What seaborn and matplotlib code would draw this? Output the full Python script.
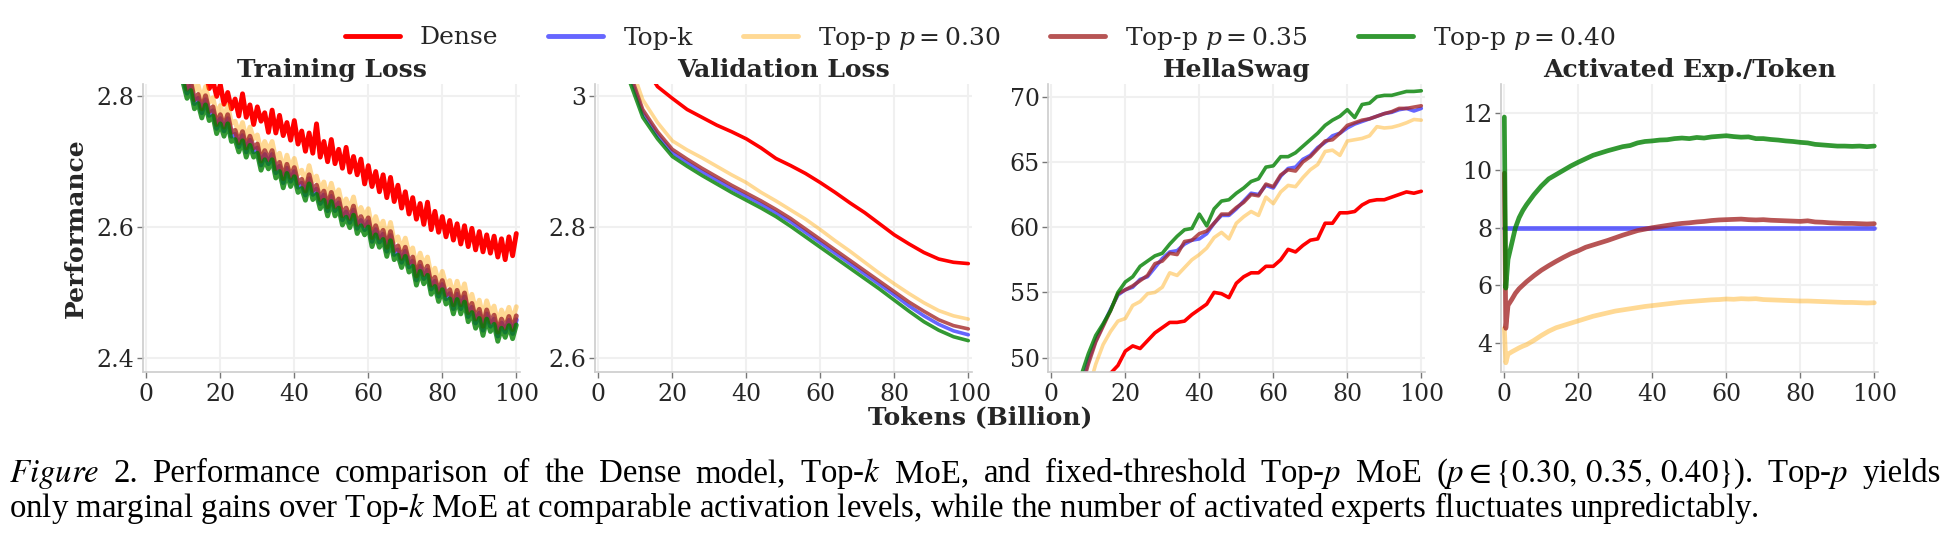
import numpy as np
import pandas as pd
import matplotlib
matplotlib.use("Agg")
import matplotlib.pyplot as plt
import seaborn as sns

# ---------------- data ----------------
series = ["Dense", "Top-k", "Top-p $p = 0.30$", "Top-p $p = 0.35$", "Top-p $p = 0.40$"]
panel_titles = ["Training Loss", "Validation Loss", "HellaSwag", "Activated Exp./Token"]

tokens_train = np.arange(10, 101)
train_dense = [2.872, 2.858, 2.866, 2.842, 2.851, 2.826, 2.838, 2.812, 2.824, 2.800,
               2.818, 2.788, 2.806, 2.781, 2.796, 2.770, 2.804, 2.768, 2.787, 2.757,
               2.784, 2.762, 2.775, 2.745, 2.779, 2.744, 2.771, 2.740, 2.760, 2.733,
               2.763, 2.727, 2.747, 2.716, 2.744, 2.713, 2.758, 2.707, 2.731, 2.700,
               2.734, 2.697, 2.719, 2.690, 2.722, 2.684, 2.708, 2.680, 2.704, 2.666,
               2.694, 2.662, 2.685, 2.654, 2.680, 2.645, 2.676, 2.639, 2.664, 2.629,
               2.654, 2.620, 2.645, 2.612, 2.636, 2.604, 2.638, 2.596, 2.624, 2.592,
               2.616, 2.585, 2.610, 2.580, 2.605, 2.574, 2.602, 2.570, 2.598, 2.565,
               2.593, 2.562, 2.588, 2.560, 2.586, 2.554, 2.582, 2.550, 2.585, 2.556,
               2.590]
train_topk = [2.828, 2.805, 2.817, 2.789, 2.797, 2.775, 2.795, 2.771, 2.778, 2.751,
              2.766, 2.747, 2.766, 2.739, 2.742, 2.723, 2.740, 2.715, 2.733, 2.715,
              2.721, 2.695, 2.711, 2.697, 2.711, 2.683, 2.693, 2.668, 2.690, 2.670,
              2.685, 2.661, 2.667, 2.649, 2.674, 2.650, 2.658, 2.636, 2.649, 2.625,
              2.647, 2.625, 2.637, 2.611, 2.623, 2.607, 2.626, 2.598, 2.610, 2.596,
              2.608, 2.578, 2.596, 2.577, 2.589, 2.563, 2.587, 2.558, 2.565, 2.546,
              2.563, 2.539, 2.548, 2.519, 2.540, 2.521, 2.534, 2.505, 2.517, 2.494,
              2.512, 2.490, 2.498, 2.475, 2.497, 2.475, 2.493, 2.463, 2.477, 2.453,
              2.468, 2.442, 2.467, 2.448, 2.459, 2.433, 2.453, 2.439, 2.457, 2.437,
              2.458]
train_p030 = [2.848, 2.825, 2.837, 2.809, 2.817, 2.795, 2.815, 2.791, 2.798, 2.771,
              2.786, 2.767, 2.786, 2.759, 2.762, 2.743, 2.760, 2.735, 2.753, 2.735,
              2.741, 2.715, 2.731, 2.717, 2.731, 2.703, 2.713, 2.688, 2.710, 2.690,
              2.705, 2.681, 2.687, 2.669, 2.694, 2.670, 2.678, 2.656, 2.669, 2.645,
              2.667, 2.645, 2.657, 2.631, 2.643, 2.627, 2.646, 2.618, 2.630, 2.616,
              2.628, 2.598, 2.616, 2.597, 2.609, 2.583, 2.607, 2.578, 2.585, 2.566,
              2.583, 2.559, 2.568, 2.539, 2.560, 2.541, 2.554, 2.525, 2.537, 2.514,
              2.532, 2.510, 2.518, 2.495, 2.517, 2.495, 2.513, 2.483, 2.497, 2.473,
              2.488, 2.462, 2.487, 2.468, 2.479, 2.453, 2.473, 2.459, 2.477, 2.457,
              2.478]
train_p035 = [2.834, 2.811, 2.823, 2.795, 2.803, 2.781, 2.801, 2.777, 2.784, 2.757,
              2.772, 2.753, 2.772, 2.745, 2.748, 2.729, 2.746, 2.721, 2.739, 2.721,
              2.727, 2.701, 2.717, 2.703, 2.717, 2.689, 2.699, 2.674, 2.696, 2.676,
              2.691, 2.667, 2.673, 2.655, 2.680, 2.656, 2.664, 2.642, 2.655, 2.631,
              2.653, 2.631, 2.643, 2.617, 2.629, 2.613, 2.632, 2.604, 2.616, 2.602,
              2.614, 2.584, 2.602, 2.583, 2.595, 2.569, 2.593, 2.564, 2.571, 2.552,
              2.569, 2.545, 2.554, 2.525, 2.546, 2.527, 2.540, 2.511, 2.523, 2.500,
              2.518, 2.496, 2.504, 2.481, 2.503, 2.481, 2.499, 2.469, 2.483, 2.459,
              2.474, 2.448, 2.473, 2.454, 2.465, 2.439, 2.459, 2.445, 2.463, 2.443,
              2.464]
train_p040 = [2.820, 2.797, 2.809, 2.781, 2.789, 2.767, 2.787, 2.763, 2.770, 2.743,
              2.758, 2.739, 2.758, 2.731, 2.734, 2.715, 2.732, 2.707, 2.725, 2.707,
              2.713, 2.687, 2.703, 2.689, 2.703, 2.675, 2.685, 2.660, 2.682, 2.662,
              2.677, 2.653, 2.659, 2.641, 2.666, 2.642, 2.650, 2.628, 2.641, 2.617,
              2.639, 2.617, 2.629, 2.603, 2.615, 2.599, 2.618, 2.590, 2.602, 2.588,
              2.600, 2.570, 2.588, 2.569, 2.581, 2.555, 2.579, 2.550, 2.557, 2.538,
              2.555, 2.531, 2.540, 2.511, 2.532, 2.513, 2.526, 2.497, 2.509, 2.486,
              2.504, 2.482, 2.490, 2.467, 2.489, 2.467, 2.485, 2.455, 2.469, 2.445,
              2.460, 2.434, 2.459, 2.440, 2.451, 2.425, 2.445, 2.431, 2.449, 2.429,
              2.450]

tokens_val = np.arange(4, 101, 4)
val_dense = [3.30, 3.12, 3.05, 3.015, 2.997, 2.980, 2.968, 2.956, 2.946, 2.935, 2.921, 2.905,
             2.894, 2.882, 2.868, 2.853, 2.837, 2.822, 2.805, 2.788, 2.774, 2.761, 2.751, 2.746, 2.744]
val_topk = [3.26, 3.04, 2.975, 2.941, 2.914, 2.899, 2.885, 2.872, 2.859, 2.847, 2.835, 2.822,
            2.808, 2.792, 2.776, 2.760, 2.744, 2.728, 2.712, 2.696, 2.679, 2.664, 2.651, 2.641, 2.635]
val_p030 = [3.29, 3.06, 2.995, 2.960, 2.932, 2.918, 2.906, 2.893, 2.880, 2.868, 2.853, 2.840,
            2.826, 2.812, 2.796, 2.779, 2.763, 2.746, 2.729, 2.713, 2.698, 2.684, 2.672, 2.664, 2.659]
val_p035 = [3.27, 3.045, 2.980, 2.946, 2.919, 2.904, 2.890, 2.877, 2.864, 2.852, 2.840, 2.827,
            2.813, 2.797, 2.781, 2.765, 2.749, 2.733, 2.717, 2.701, 2.685, 2.671, 2.658, 2.649, 2.644]
val_p040 = [3.25, 3.03, 2.968, 2.935, 2.908, 2.893, 2.879, 2.866, 2.853, 2.841, 2.829, 2.816,
            2.801, 2.785, 2.769, 2.753, 2.737, 2.721, 2.705, 2.688, 2.671, 2.655, 2.642, 2.632, 2.626]

tokens_hs = np.arange(8, 101, 2)
hs_dense = [43.0, 44.5, 46.0, 47.3, 48.8, 49.4, 50.5, 50.9, 50.7, 51.3,
            51.9, 52.3, 52.7, 52.7, 52.8, 53.3, 53.7, 54.1, 55.0, 54.9,
            54.6, 55.7, 56.2, 56.5, 56.5, 57.0, 57.0, 57.5, 58.3, 58.1,
            58.6, 59.0, 59.1, 60.3, 60.3, 61.1, 61.1, 61.2, 61.7, 62.0,
            62.1, 62.1, 62.3, 62.5, 62.7, 62.6, 62.75]
hs_topk = [47.7, 49.8, 51.3, 52.5, 53.7, 54.8, 55.2, 55.4, 56.0, 56.2,
           56.9, 57.6, 58.1, 58.2, 58.7, 59.0, 59.1, 59.5, 60.3, 60.9,
           60.9, 61.4, 62.0, 62.6, 62.5, 63.2, 63.0, 63.9, 64.5, 64.6,
           65.2, 65.5, 66.1, 66.5, 67.0, 67.2, 67.6, 67.9, 68.1, 68.3,
           68.5, 68.7, 68.8, 69.0, 69.1, 68.9, 69.1]
hs_p030 = [45.5, 47.5, 49.5, 51.0, 52.0, 52.8, 53.0, 54.0, 54.3, 54.9,
           55.0, 55.4, 56.5, 56.3, 56.9, 57.5, 57.9, 58.4, 59.2, 59.6,
           59.1, 60.3, 60.8, 61.2, 60.9, 62.3, 61.8, 62.7, 63.2, 63.1,
           63.8, 64.4, 64.8, 65.8, 65.9, 65.5, 66.6, 66.7, 66.8, 67.0,
           67.7, 67.6, 67.65, 67.8, 68.0, 68.25, 68.2]
hs_p035 = [47.5, 49.5, 51.2, 52.4, 53.6, 54.9, 55.2, 55.5, 55.9, 56.3,
           57.2, 57.4, 58.0, 57.9, 58.9, 59.0, 59.5, 59.7, 60.3, 61.0,
           61.0, 61.5, 61.9, 62.5, 62.4, 63.3, 63.1, 64.0, 64.4, 64.3,
           65.0, 65.4, 66.0, 66.6, 66.7, 67.2, 67.8, 68.0, 68.2, 68.3,
           68.5, 68.7, 68.85, 69.1, 69.1, 69.2, 69.3]
hs_p040 = [48.6, 50.3, 51.7, 52.6, 53.6, 55.0, 55.8, 56.2, 57.0, 57.4,
           57.8, 58.0, 58.7, 59.3, 59.8, 59.9, 61.0, 60.1, 61.4, 62.0,
           62.1, 62.6, 63.0, 63.5, 63.7, 64.6, 64.7, 65.4, 65.4, 65.7,
           66.2, 66.7, 67.2, 67.8, 68.2, 68.5, 69.0, 68.4, 69.4, 69.5,
           70.0, 70.1, 70.1, 70.25, 70.4, 70.4, 70.45]

tokens_act = np.concatenate([[0, 0.4, 1, 2, 3, 4, 5, 6], np.arange(8, 101, 2)])
tokens_act_topk = [0, 100]
act_topk = [8, 8]
act_p030 = [4.5, 3.3, 3.6, 3.68, 3.75, 3.82, 3.88, 3.93,
            4.08, 4.25, 4.4, 4.52, 4.6, 4.68, 4.76, 4.84, 4.92, 4.98,
            5.04, 5.1, 5.14, 5.18, 5.22, 5.26, 5.29, 5.32, 5.35, 5.38,
            5.41, 5.43, 5.45, 5.47, 5.49, 5.5, 5.52, 5.51, 5.53, 5.52,
            5.53, 5.5, 5.49, 5.48, 5.47, 5.46, 5.45, 5.45, 5.44, 5.43,
            5.42, 5.41, 5.4, 5.4, 5.39, 5.38, 5.39]
act_p035 = [9.9, 4.5, 5.3, 5.5, 5.72, 5.88, 6.0, 6.12,
            6.33, 6.52, 6.68, 6.83, 6.97, 7.1, 7.2, 7.32, 7.4, 7.48,
            7.56, 7.65, 7.74, 7.82, 7.9, 7.95, 8.0, 8.04, 8.08, 8.12,
            8.15, 8.17, 8.2, 8.22, 8.25, 8.27, 8.28, 8.29, 8.3, 8.28,
            8.27, 8.28, 8.26, 8.25, 8.24, 8.23, 8.22, 8.24, 8.2, 8.19,
            8.17, 8.16, 8.15, 8.15, 8.14, 8.13, 8.14]
act_p040 = [11.85, 5.9, 6.9, 7.45, 8.0, 8.35, 8.6, 8.8,
            9.15, 9.45, 9.7, 9.85, 10.0, 10.15, 10.28, 10.4, 10.52, 10.6,
            10.68, 10.75, 10.82, 10.86, 10.95, 11.0, 11.02, 11.05, 11.06, 11.1,
            11.12, 11.1, 11.14, 11.12, 11.16, 11.18, 11.2, 11.17, 11.15, 11.16,
            11.1, 11.1, 11.07, 11.05, 11.02, 11.0, 10.97, 10.95, 10.9, 10.88,
            10.86, 10.84, 10.84, 10.83, 10.84, 10.82, 10.84]

x_ticks = [0, 20, 40, 60, 80, 100]
y_ticks = [[2.4, 2.6, 2.8], [2.6, 2.8, 3.0], [50, 55, 60, 65, 70], [4, 6, 8, 10, 12]]
y_ticklabels = [["2.4", "2.6", "2.8"], ["2.6", "2.8", "3"],
                ["50", "55", "60", "65", "70"], ["4", "6", "8", "10", "12"]]
y_limits = [(2.378, 2.819), (2.578, 3.019), (48.9, 70.97), (2.98, 13.0)]

caption_1_words = [r"$\mathit{Figure}$", "2.", "Performance", "comparison", "of", "the",
                   "Dense", "model,", "Top-$k$", "MoE,", "and", "fixed-threshold",
                   "Top-$p$", "MoE", r"($p \in \{0.30,\,0.35,\,0.40\}$).", "Top-$p$", "yields"]
caption_2 = (r"only marginal gains over Top-$k$ MoE at comparable activation levels, "
             r"while the number of activated experts fluctuates unpredictably.")

# ---------------- style ----------------
colors = ["#ff0000", "#0000ff", "#ffa500", "#a52a2a", "#008000"]
alphas = [1.0, 0.6, 0.42, 0.8, 0.8]

sns.set_theme(style="whitegrid")
plt.rcParams.update({
    "font.family": ["DejaVu Serif"],
    "mathtext.fontset": "dejavuserif",
    "axes.edgecolor": "#cccccc",
    "axes.linewidth": 1.2,
    "grid.color": "#f0f0f0",
    "grid.linewidth": 1.5,
    "xtick.bottom": True,
    "ytick.left": True,
    "xtick.major.size": 4,
    "ytick.major.size": 4,
    "xtick.major.width": 1.0,
    "ytick.major.width": 1.0,
    "xtick.color": "#777777",
    "ytick.color": "#777777",
    "xtick.labelcolor": "#262626",
    "ytick.labelcolor": "#262626",
    "xtick.major.pad": 4,
    "ytick.major.pad": 2,
    "text.color": "#262626",
})

W, H = 1960, 548
fig = plt.figure(figsize=(W / 100, H / 100), dpi=100)

lefts = [143, 595, 1048, 1501]
ax_w, ax_top, ax_bot = 377, 84, 372
axes = [fig.add_axes([l / W, 1 - ax_bot / H, ax_w / W, (ax_bot - ax_top) / H]) for l in lefts]

panels = [
    [(tokens_train, train_dense), (tokens_train, train_topk), (tokens_train, train_p030),
     (tokens_train, train_p035), (tokens_train, train_p040)],
    [(tokens_val, val_dense), (tokens_val, val_topk), (tokens_val, val_p030),
     (tokens_val, val_p035), (tokens_val, val_p040)],
    [(tokens_hs, hs_dense), (tokens_hs, hs_topk), (tokens_hs, hs_p030),
     (tokens_hs, hs_p035), (tokens_hs, hs_p040)],
    [None, (tokens_act_topk, act_topk), (tokens_act, act_p030),
     (tokens_act, act_p035), (tokens_act, act_p040)],
]
widths = [3.5, 2.6, 2.6, 3.4]

for i, ax in enumerate(axes):
    for j, name in enumerate(series):
        item = panels[i][j]
        if item is None:
            continue
        xs, ys = item
        df = pd.DataFrame({"Tokens": np.asarray(xs, dtype=float), "Value": ys})
        sns.lineplot(data=df, x="Tokens", y="Value", ax=ax, color=colors[j],
                     alpha=alphas[j], lw=widths[i], label=name, errorbar=None,
                     legend=False)
    ax.set_xlim(-0.9, 101)
    ax.set_ylim(*y_limits[i])
    ax.set_xticks(x_ticks)
    ax.set_xticklabels([str(t) for t in x_ticks])
    ax.set_yticks(y_ticks[i])
    ax.set_yticklabels(y_ticklabels[i])
    ax.tick_params(labelsize=17)
    ax.set_xlabel("")
    ax.set_ylabel("")
    ax.set_title(panel_titles[i], fontsize=18, fontweight="bold", pad=5)
    for s in ["top", "right"]:
        ax.spines[s].set_visible(False)
    leg = ax.get_legend()
    if leg is not None:
        leg.remove()

handles, labels = axes[0].get_legend_handles_labels()
fig.legend(handles, labels, loc="center", bbox_to_anchor=(0.5, 1 - 38 / H), ncol=5,
           frameon=False, fontsize=18, handlelength=2.2, handletextpad=0.8,
           columnspacing=2.0)

fig.text(76 / W, 1 - 228 / H, "Performance", rotation=90, fontsize=18,
         fontweight="bold", ha="center", va="center")
fig.text(0.5, 1 - 417 / H, "Tokens (Billion)", fontsize=18, fontweight="bold",
         ha="center", va="center")

# caption: line 2 sets the font size, line 1 is justified to the full width
cap_kw = dict(family="Liberation Serif", math_fontfamily="stix", ha="left",
              va="baseline", color="black")
x0_px, x1_px = 9, 1941
cap2 = fig.text(x0_px / W, 1 - 517 / H, caption_2, fontsize=21, **cap_kw)
fig.canvas.draw()
fs = 21 * 1750 / cap2.get_window_extent().width
cap2.set_fontsize(fs)

word_texts = [fig.text(x0_px / W, 1 - 482 / H, wd, fontsize=fs, **cap_kw)
              for wd in caption_1_words]
fig.canvas.draw()
wws = [t.get_window_extent().width for t in word_texts]
gap = ((x1_px - x0_px) - sum(wws)) / (len(wws) - 1)
xpos = x0_px
for t, ww in zip(word_texts, wws):
    t.set_x(xpos / W)
    xpos += ww + gap

fig.savefig("out.png", dpi=100)
